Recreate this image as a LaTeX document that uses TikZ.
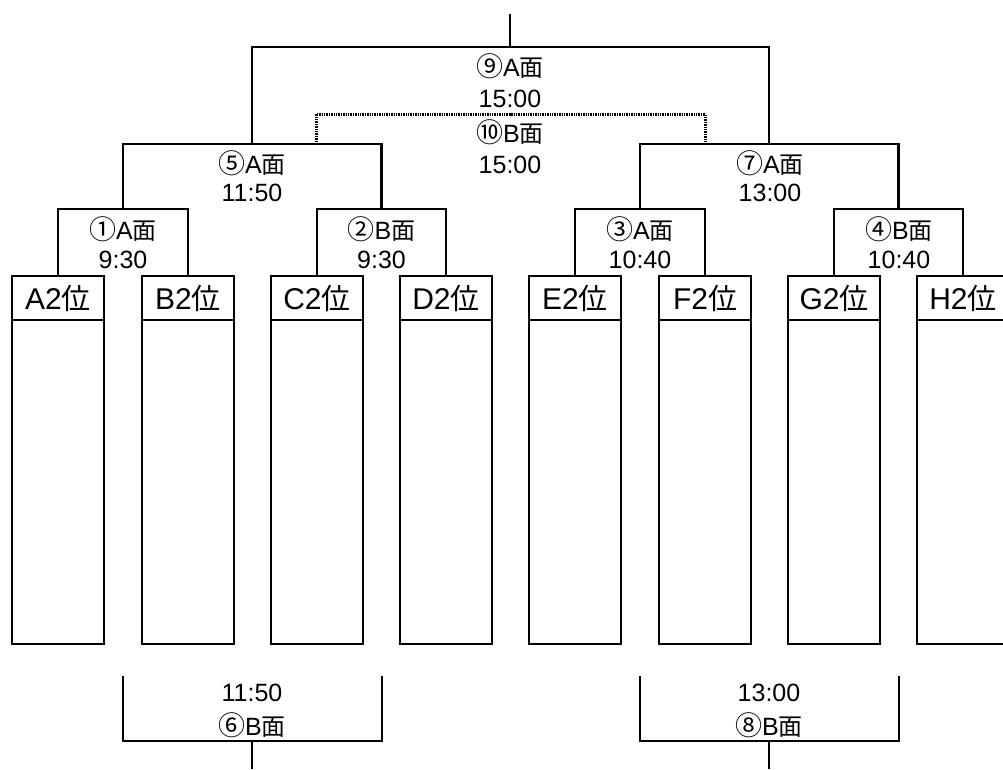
\documentclass[tikz,border=0pt]{standalone}
\usepackage{fontspec}
\setmainfont{Liberation Sans}
\newfontfamily\cjk{Noto Sans CJK JP}
\newcommand\cjc[1]{{\fontsize{27}{28}\cjk #1}}
\newcommand\cjm[1]{{\fontsize{24}{26}\cjk #1}}
\newcommand\cjb[1]{{\fontsize{29}{30}\cjk #1}}
\begin{document}
\begin{tikzpicture}[x=1pt,y=-1pt,
  line/.style={line width=2.1pt},
  dotline/.style={line width=3pt,dash pattern=on 1.4pt off 1pt},
  teambox/.style={draw,line width=2.1pt,minimum width=92pt,minimum height=368pt,anchor=north,inner sep=0pt},
  teamlbl/.style={font=\fontsize{30}{32}\selectfont,inner sep=0pt},
  mlbl/.style={font=\fontsize{25}{27}\selectfont,inner sep=0pt}]
\useasboundingbox (0,0) rectangle (1003,769);
% team boxes
\foreach \n/\x/\t in {a/58/A,b/188/B,c/317/C,d/446/D,e/575/E,f/705/F,g/834/G,h/963/H}{
  \node[teambox] (\n) at (\x,275) {};
  \draw[line] (\n.west |- 0,320) -- (\n.east |- 0,320);
  \node[teamlbl] (\n l) at (\x,298) {\t2\cjb{位}};
}
% round 1 tops
\coordinate (m1t) at (123,209);
\coordinate (m2t) at (381.5,209);
\coordinate (m3t) at (640,209);
\coordinate (m4t) at (898.5,209);
\draw[line] (a.north) |- (m1t) -| (b.north);
\draw[line] (c.north) |- (m2t) -| (d.north);
\draw[line] (e.north) |- (m3t) -| (f.north);
\draw[line] (g.north) |- (m4t) -| (h.north);
\node[mlbl] (m1a) at (123,229) {\cjc{①}A\cjm{面}};
\node[mlbl] (m1b) at (123,260) {9:30};
\node[mlbl] (m2a) at (381.5,229) {\cjc{②}B\cjm{面}};
\node[mlbl] (m2b) at (381.5,260) {9:30};
\node[mlbl] (m3a) at (640,229) {\cjc{③}A\cjm{面}};
\node[mlbl] (m3b) at (640,260) {10:40};
\node[mlbl] (m4a) at (899,229) {\cjc{④}B\cjm{面}};
\node[mlbl] (m4b) at (899,260) {10:40};
% round 2
\coordinate (m5t) at (252,144);
\coordinate (m7t) at (769,144);
\draw[line] (m1t) |- (m5t) -| (m2t);
\draw[line] (m3t) |- (m7t) -| (m4t);
\node[mlbl] (m5a) at (252,163) {\cjc{⑤}A\cjm{面}};
\node[mlbl] (m5b) at (252,193) {11:50};
\node[mlbl] (m7a) at (770,163) {\cjc{⑦}A\cjm{面}};
\node[mlbl] (m7b) at (770,193) {13:00};
% final
\coordinate (m9t) at (510,47);
\coordinate (top) at (510,14);
\draw[line] (m5t) |- (m9t) -| (m7t);
\draw[line] (m9t) -- (top);
\node[mlbl] (m9a) at (510,66) {\cjc{⑨}A\cjm{面}};
\node[mlbl] (m9b) at (510,99) {15:00};
% third place (dotted)
\coordinate (m10l) at (316,142);
\coordinate (m10r) at (705,142);
\coordinate (m10t) at (510,114);
\draw[dotline] (m10l) |- (m10t) -| (m10r);
\node[mlbl] (m10a) at (510,132) {\cjc{⑩}B\cjm{面}};
\node[mlbl] (m10b) at (510,165) {15:00};
% lower brackets
\coordinate (m6l) at (123,676);
\coordinate (m6r) at (382,676);
\coordinate (m6b) at (252,741);
\coordinate (m6s) at (252,769);
\draw[line] (m6l) |- (m6b) -| (m6r);
\draw[line] (m6b) -- (m6s);
\node[mlbl] (m6a) at (252,693) {11:50};
\node[mlbl] (m6c) at (252,725) {\cjc{⑥}B\cjm{面}};
\coordinate (m8l) at (640,676);
\coordinate (m8r) at (899,676);
\coordinate (m8b) at (769,741);
\coordinate (m8s) at (769,769);
\draw[line] (m8l) |- (m8b) -| (m8r);
\draw[line] (m8b) -- (m8s);
\node[mlbl] (m8a) at (769,693) {13:00};
\node[mlbl] (m8c) at (769,725) {\cjc{⑧}B\cjm{面}};
\end{tikzpicture}
\end{document}
